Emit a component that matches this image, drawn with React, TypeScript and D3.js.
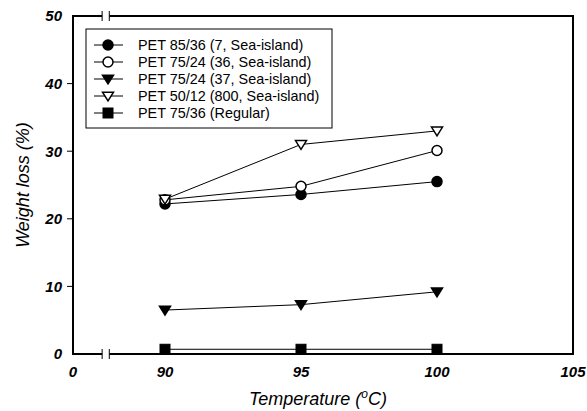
import React from 'react';
import * as d3 from 'd3';

const temps = [90, 95, 100];
const seriesNames = [
  'PET 85/36 (7, Sea-island)',
  'PET 75/24 (36, Sea-island)',
  'PET 75/24 (37, Sea-island)',
  'PET 50/12 (800, Sea-island)',
  'PET 75/36 (Regular)',
];
const seaIsland7 = [22.2, 23.6, 25.5];
const seaIsland36 = [22.8, 24.8, 30.1];
const seaIsland37 = [6.5, 7.3, 9.2];
const seaIsland800 = [22.9, 31.0, 33.0];
const regular = [0.7, 0.7, 0.7];
const xTicks = [0, 90, 95, 100, 105];
const yTicks = [0, 10, 20, 30, 40, 50];
const xBreak = [28.5, 35.5];

type Shape = 'circle' | 'triangle' | 'square';
const seriesValues = [seaIsland7, seaIsland36, seaIsland37, seaIsland800, regular];
const seriesShape: Shape[] = ['circle', 'circle', 'triangle', 'triangle', 'square'];
const seriesFilled = [true, false, true, false, true];

const W = 587;
const H = 411;
const left = 73;
const right = 573;
const top = 16;
const bottom = 354;

const x = d3.scaleLinear().domain([0, 90, 105]).range([left, 165, right]);
const y = d3.scaleLinear().domain([0, 50]).range([bottom, top]);

const line = d3
  .line<number>()
  .x((_, i) => x(temps[i]))
  .y((v) => y(v));

function Marker({ shape, filled, cx, cy }: { shape: Shape; filled: boolean; cx: number; cy: number }) {
  const fill = filled ? '#000' : '#fff';
  if (shape === 'circle') {
    return <circle cx={cx} cy={cy} r={5} fill={fill} stroke="#000" strokeWidth={1.5} />;
  }
  if (shape === 'square') {
    return <rect x={cx - 5} y={cy - 5} width={10} height={10} fill={fill} stroke="#000" strokeWidth={1} />;
  }
  const s = 5.5;
  return (
    <path
      d={`M${cx - s},${cy - s * 0.7}L${cx + s},${cy - s * 0.7}L${cx},${cy + s * 0.9}Z`}
      fill={fill}
      stroke="#000"
      strokeWidth={1.5}
    />
  );
}

export default function App() {
  const [b0, b1] = xBreak.map((v) => x(v));
  const legendX = 86;
  const legendY = 29;
  const rowH = 17;
  return (
    <svg
      width={W}
      height={H}
      style={{ position: 'absolute', left: 0, top: 0, background: '#fff' }}
      fontFamily="'Liberation Sans', Arial, sans-serif"
    >
      {/* frame with axis break */}
      <g stroke="#000" strokeWidth={2} fill="none">
        <line x1={left} y1={top} x2={left} y2={bottom} />
        <line x1={right} y1={top} x2={right} y2={bottom} />
        {[top, bottom].map((yy) => (
          <g key={yy}>
            <line x1={left - 1} y1={yy} x2={b0} y2={yy} />
            <line x1={b1} y1={yy} x2={right + 1} y2={yy} />
            <line x1={b0} y1={yy - 5} x2={b0} y2={yy + 5} strokeWidth={1} />
            <line x1={b1} y1={yy - 5} x2={b1} y2={yy + 5} strokeWidth={1} />
          </g>
        ))}
      </g>

      {/* y ticks */}
      {yTicks.map((t) => (
        <g key={t}>
          {t > 0 && t < 50 ? (
            <line x1={left - 6} x2={left} y1={y(t)} y2={y(t)} stroke="#000" strokeWidth={1} />
          ) : null}
          <text
            x={left - 11}
            y={y(t)}
            dy="0.36em"
            textAnchor="end"
            fontSize={15}
            fontWeight="bold"
            fontStyle="italic"
          >
            {t}
          </text>
        </g>
      ))}

      {/* x tick labels */}
      {xTicks.map((t) => (
        <text key={t} x={x(t)} y={377} textAnchor="middle" fontSize={15} fontWeight="bold" fontStyle="italic">
          {t}
        </text>
      ))}

      {/* axis titles */}
      <text x={318} y={405} textAnchor="middle" fontSize={18} fontStyle="italic">
        Temperature (<tspan dy={-7} fontSize={12}>o</tspan>
        <tspan dy={7}>C)</tspan>
      </text>
      <text
        transform={`translate(29,${(top + bottom) / 2}) rotate(-90)`}
        textAnchor="middle"
        fontSize={18}
        fontStyle="italic"
      >
        Weight loss (%)
      </text>

      {/* series */}
      {seriesValues.map((vals, si) => (
        <g key={si}>
          <path d={line(vals) || ''} fill="none" stroke="#000" strokeWidth={1} />
          {vals.map((v, i) => (
            <Marker key={i} shape={seriesShape[si]} filled={seriesFilled[si]} cx={x(temps[i])} cy={y(v)} />
          ))}
        </g>
      ))}

      {/* legend */}
      <rect x={legendX} y={legendY} width={332 - legendX} height={128 - legendY} fill="#fff" stroke="#000" strokeWidth={1} />
      {seriesNames.map((name, i) => {
        const cy = legendY + 16 + i * rowH;
        return (
          <g key={name}>
            <line x1={legendX + 8} x2={legendX + 37} y1={cy} y2={cy} stroke="#000" strokeWidth={1} />
            <Marker shape={seriesShape[i]} filled={seriesFilled[i]} cx={legendX + 22} cy={cy} />
            <text x={legendX + 52} y={cy} dy="0.36em" fontSize={14.4}>
              {name}
            </text>
          </g>
        );
      })}
    </svg>
  );
}
